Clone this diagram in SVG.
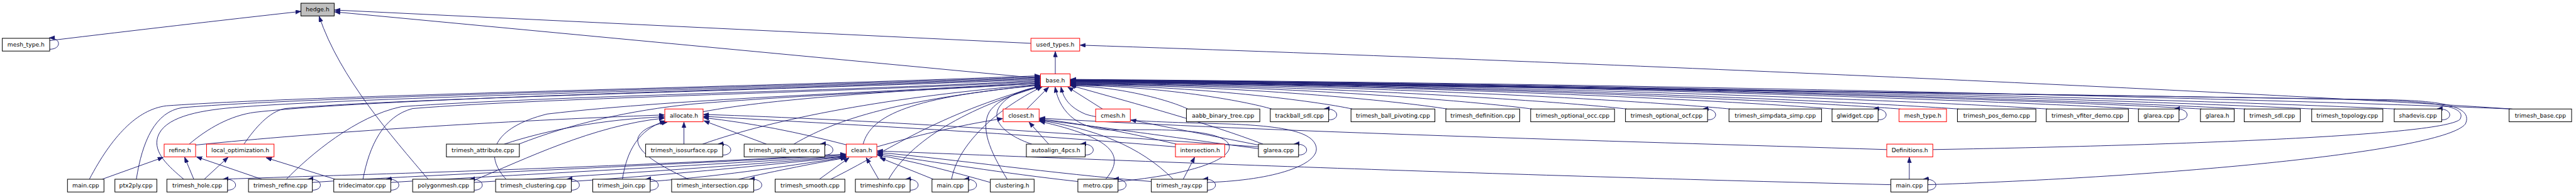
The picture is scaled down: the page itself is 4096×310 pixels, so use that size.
<svg xmlns="http://www.w3.org/2000/svg" width="4096" height="310" viewBox="0 0 4096 310">
<defs>
<style>
.n rect{fill:#fff;stroke:#000;stroke-width:1.4}
.n.r rect{stroke:#ff0000}
.n.g rect{fill:#bfbfbf}
.n text{font-family:"DejaVu Sans","Liberation Sans",sans-serif;font-size:12.7px;text-anchor:middle;fill:#000}
#edges path{fill:none;stroke:#191970;stroke-width:1.3;marker-end:url(#ah)}
</style>
<marker id="ah" markerWidth="13" markerHeight="10" refX="12" refY="4.5" orient="auto" markerUnits="userSpaceOnUse"><path d="M0,0 L12,4.5 L0,9 z" fill="#191970" stroke="#191970" stroke-width="1"/></marker>
</defs>
<rect width="4096" height="310" fill="#fff"/>
<g transform="scale(0.725)">
<g id="edges">
<!-- to hedge.h -->
<path d="M109,89 C300,66 480,45 660,25"/>
<path d="M109,108 C135,108 135,83 108,83"/>
<path d="M2261,95 L734,22"/>
<path d="M2282,172 L734,26"/>
<path d="M939,393 C860,300 745,170 700,36"/>
<!-- to used_types.h -->
<path d="M2314.5,162 L2314.5,113"/>
<path d="M5510,239 C5000,205 3600,140 2369,99"/>
<!-- row3 right nodes to base.h -->
<path d="M2418,239 L2342,191"/>
<path d="M2605,239 C2571,222 2462,190 2348,188"/>
<path d="M2789,239 C2733,222 2545,188 2348,187"/>
<path d="M2966,239 C2889,222 2624,188 2348,186"/>
<path d="M3174,239 C3072,222 2718,187 2348,185"/>
<path d="M3360,239 C3236,222 2802,186 2348,184"/>
<path d="M3568,239 C3419,222 2895,186 2348,183"/>
<path d="M3795,239 C3619,222 2997,185 2348,182"/>
<path d="M4021,239 C3817,222 3099,185 2348,181"/>
<path d="M4168,239 C3947,222 3165,185 2348,180"/>
<path d="M4296,239 C4059,222 3223,185 2348,179"/>
<path d="M4491,239 C4231,222 3310,185 2348,178"/>
<path d="M4693,239 C4409,222 3401,184 2348,177"/>
<path d="M4829,239 C4528,222 3463,184 2348,176"/>
<path d="M4925,239 C4613,222 3506,184 2348,176"/>
<path d="M5073,239 C4743,222 3572,184 2348,175"/>
<path d="M5254,239 C4902,222 3654,184 2348,175"/>
<path d="M5506,239 C5124,222 3767,184 2348,174"/>
<path d="M4239,328 C4700,320 5350,300 5395,262 C5410,236 5360,223 5200,219 C4500,206 3000,186 2348,177"/>
<path d="M4228,405 C4800,386 5360,330 5407,272 C5422,240 5380,222 5250,219 C4500,207 3000,187 2348,178"/>
<!-- left/bottom nodes to base.h -->
<path d="M196,393 C245,300 300,240 365,232 C700,208 1700,190 2281,166"/>
<path d="M299,393 C312,310 340,245 400,236 C700,210 1700,192 2281,168"/>
<path d="M403,393 C370,365 335,335 346,300 C360,258 430,243 510,236 C800,212 1700,194 2281,170"/>
<path d="M415,316 C455,282 505,253 560,246 C850,214 1700,196 2281,172"/>
<path d="M535,316 C560,280 590,245 625,238 C900,214 1700,198 2281,174"/>
<path d="M628,393 C680,340 780,255 880,234 C1200,210 1900,199 2281,176"/>
<path d="M796,393 C810,320 840,255 905,238 C1200,214 1900,201 2281,178"/>
<path d="M1110,393 C1060,340 1080,280 1200,250 C1500,215 1950,203 2281,180"/>
<path d="M1138,316 C1250,272 1380,242 1520,228 C1800,205 2100,196 2281,182"/>
<path d="M1542,245 C1700,215 2000,197 2281,183"/>
<path d="M1541,316 C1700,260 1950,212 2281,185"/>
<path d="M1741,316 C1850,252 2000,216 2281,186"/>
<path d="M1893,316 C1910,252 2000,212 2282,187"/>
<path d="M1822,393 C1950,330 2050,252 2283,188"/>
<path d="M1949,393 C1990,320 2100,242 2284,189"/>
<path d="M2087,393 C2100,320 2180,242 2286,190"/>
<path d="M2209,393 C2170,330 2150,280 2170,245 C2190,215 2240,200 2284,189"/>
<path d="M2263,316 C2200,295 2170,260 2195,230 C2215,205 2250,195 2283,189"/>
<path d="M2252,239 L2300,191"/>
<path d="M2452,398 C2640,380 2720,340 2690,310 C2660,285 2560,283 2450,285 C2370,288 2325,250 2314,191"/>
<path d="M2648,400 C2800,395 2890,360 2887,325 C2883,290 2820,277 2700,272 C2560,268 2420,265 2380,250 C2345,235 2332,215 2327,191"/>
<path d="M2770,316 C2650,270 2500,230 2347,187"/>
<!-- to allocate.h -->
<path d="M429,318 C700,290 1100,265 1457,252"/>
<path d="M1106,316 C1200,285 1320,262 1457,256"/>
<path d="M1040,395 C1150,350 1300,275 1457,259"/>
<path d="M1365,393 C1375,330 1400,285 1459,265"/>
<path d="M1510,393 C1440,360 1390,330 1400,300 C1410,280 1440,272 1463,268"/>
<path d="M1500,316 L1500,268"/>
<path d="M1681,316 L1544,265"/>
<path d="M1858,318 C1750,290 1650,270 1543,258"/>
<path d="M2578,322 C2200,290 1800,270 1543,255"/>
<path d="M2760,322 C2300,290 1900,262 1543,251"/>
<!-- to clean.h -->
<path d="M490,393 C700,385 1300,370 1855,338"/>
<path d="M685,400 C900,385 1400,365 1855,340"/>
<path d="M857,400 C1100,385 1500,365 1855,342"/>
<path d="M1040,400 C1300,385 1600,365 1855,343"/>
<path d="M1253,398 C1450,385 1650,365 1855,344"/>
<path d="M1426,398 C1600,385 1750,360 1856,345"/>
<path d="M1620,393 C1700,375 1800,355 1856,346"/>
<path d="M1797,393 L1862,346"/>
<path d="M1927,393 L1900,346"/>
<path d="M2047,393 L1930,346"/>
<path d="M2172,400 C2100,380 2000,352 1924,340"/>
<path d="M2364,398 C2200,380 2050,355 1924,337"/>
<path d="M2525,398 C2300,380 2100,350 1924,334"/>
<path d="M4147,405 C3300,385 2400,350 1924,331"/>
<!-- to closest.h -->
<path d="M2300,316 L2257,268"/>
<path d="M1923,322 C2000,300 2100,275 2199,260"/>
<path d="M2580,316 C2450,285 2350,268 2280,261"/>
<path d="M2760,326 C2550,298 2400,276 2280,263"/>
<path d="M2573,393 C2500,320 2400,282 2280,264"/>
<path d="M2425,393 C2470,340 2440,302 2280,266"/>
<path d="M4138,328 C3500,308 2800,290 2280,259"/>
<!-- misc -->
<path d="M2760,318 L2480,263"/>
<path d="M2595,393 L2620,345"/>
<path d="M224,393 L358,345"/>
<path d="M425,393 L405,345"/>
<path d="M574,393 L431,344"/>
<path d="M448,393 L500,345"/>
<path d="M735,393 L584,346"/>
<path d="M4187.5,393 L4187.5,345"/>
<!-- self loops -->
<path d="M2914,263 C2940,263 2938,236 2904,239"/>
<path d="M3745,263 C3771,263 3769,236 3735,239"/>
<path d="M4119,263 C4145,263 4143,236 4109,239"/>
<path d="M4779,263 C4805,263 4803,236 4769,239"/>
<path d="M5355,263 C5381,263 5379,236 5345,239"/>
<path d="M1585,340 C1611,340 1609,313 1575,316"/>
<path d="M1809,340 C1835,340 1833,313 1799,316"/>
<path d="M2380,340 C2406,340 2404,313 2370,316"/>
<path d="M2848,340 C2874,340 2872,313 2838,316"/>
<path d="M499,417 C525,417 523,390 489,393"/>
<path d="M685,417 C711,417 709,390 675,393"/>
<path d="M857,417 C883,417 881,390 847,393"/>
<path d="M1040,417 C1066,417 1064,390 1030,393"/>
<path d="M1253,417 C1279,417 1277,390 1243,393"/>
<path d="M1426,417 C1452,417 1450,390 1416,393"/>
<path d="M1653,417 C1679,417 1677,390 1643,393"/>
<path d="M1996,417 C2022,417 2020,390 1986,393"/>
<path d="M2124,417 C2150,417 2148,390 2114,393"/>
<path d="M2452,417 C2478,417 2476,390 2442,393"/>
<path d="M2648,417 C2674,417 2672,390 2638,393"/>
<path d="M4228,417 C4254,417 4252,390 4218,393"/>
</g>
<g id="n_hedge" class="n g"><rect x="660" y="7" width="73" height="28"/><text x="696.5" y="25.5">hedge.h</text></g>
<g id="n_meshtypeL" class="n"><rect x="5" y="84" width="104" height="28"/><text x="57" y="102.5">mesh_type.h</text></g>
<g id="n_used" class="n r"><rect x="2261" y="84" width="107" height="28"/><text x="2314.5" y="102.5">used_types.h</text></g>
<g id="n_base" class="n r"><rect x="2282" y="162" width="65" height="28"/><text x="2314.5" y="180.5">base.h</text></g>
<g id="n_allocate" class="n r"><rect x="1458" y="239" width="84" height="28"/><text x="1500" y="257.5">allocate.h</text></g>
<g id="n_closest" class="n r"><rect x="2200" y="239" width="79" height="28"/><text x="2239.5" y="257.5">closest.h</text></g>
<g id="n_cmesh" class="n r"><rect x="2403" y="239" width="76" height="28"/><text x="2441" y="257.5">cmesh.h</text></g>
<g id="n_aabb" class="n"><rect x="2602" y="239" width="161" height="28"/><text x="2682.5" y="257.5">aabb_binary_tree.cpp</text></g>
<g id="n_trackball" class="n"><rect x="2786" y="239" width="128" height="28"/><text x="2850" y="257.5">trackball_sdl.cpp</text></g>
<g id="n_ballpiv" class="n"><rect x="2963" y="239" width="184" height="28"/><text x="3055" y="257.5">trimesh_ball_pivoting.cpp</text></g>
<g id="n_defn" class="n"><rect x="3171" y="239" width="162" height="28"/><text x="3252" y="257.5">trimesh_definition.cpp</text></g>
<g id="n_occ" class="n"><rect x="3357" y="239" width="184" height="28"/><text x="3449" y="257.5">trimesh_optional_occ.cpp</text></g>
<g id="n_ocf" class="n"><rect x="3565" y="239" width="180" height="28"/><text x="3655" y="257.5">trimesh_optional_ocf.cpp</text></g>
<g id="n_simp" class="n"><rect x="3792" y="239" width="203" height="28"/><text x="3893.5" y="257.5">trimesh_simpdata_simp.cpp</text></g>
<g id="n_glwidget" class="n"><rect x="4018" y="239" width="101" height="28"/><text x="4068.5" y="257.5">glwidget.cpp</text></g>
<g id="n_meshtypeR" class="n r"><rect x="4165" y="239" width="104" height="28"/><text x="4217" y="257.5">mesh_type.h</text></g>
<g id="n_pos" class="n"><rect x="4293" y="239" width="172" height="28"/><text x="4379" y="257.5">trimesh_pos_demo.cpp</text></g>
<g id="n_vfiter" class="n"><rect x="4488" y="239" width="180" height="28"/><text x="4578" y="257.5">trimesh_vfiter_demo.cpp</text></g>
<g id="n_glareaR" class="n"><rect x="4690" y="239" width="89" height="28"/><text x="4734.5" y="257.5">glarea.cpp</text></g>
<g id="n_glareah" class="n"><rect x="4826" y="239" width="74" height="28"/><text x="4863" y="257.5">glarea.h</text></g>
<g id="n_sdl" class="n"><rect x="4922" y="239" width="123" height="28"/><text x="4983.5" y="257.5">trimesh_sdl.cpp</text></g>
<g id="n_topo" class="n"><rect x="5070" y="239" width="156" height="28"/><text x="5148" y="257.5">trimesh_topology.cpp</text></g>
<g id="n_shadevis" class="n"><rect x="5251" y="239" width="104" height="28"/><text x="5303" y="257.5">shadevis.cpp</text></g>
<g id="n_tbase" class="n"><rect x="5503" y="239" width="137" height="28"/><text x="5571.5" y="257.5">trimesh_base.cpp</text></g>
<g id="n_refine" class="n r"><rect x="360" y="316" width="69" height="28"/><text x="394.5" y="334.5">refine.h</text></g>
<g id="n_localopt" class="n r"><rect x="453" y="316" width="148" height="28"/><text x="527" y="334.5">local_optimization.h</text></g>
<g id="n_attr" class="n"><rect x="979" y="316" width="160" height="28"/><text x="1059" y="334.5">trimesh_attribute.cpp</text></g>
<g id="n_iso" class="n"><rect x="1416" y="316" width="169" height="28"/><text x="1500.5" y="334.5">trimesh_isosurface.cpp</text></g>
<g id="n_split" class="n"><rect x="1632" y="316" width="177" height="28"/><text x="1720.5" y="334.5">trimesh_split_vertex.cpp</text></g>
<g id="n_clean" class="n r"><rect x="1856" y="316" width="67" height="28"/><text x="1889.5" y="334.5">clean.h</text></g>
<g id="n_autoalign" class="n"><rect x="2251" y="316" width="129" height="28"/><text x="2315.5" y="334.5">autoalign_4pcs.h</text></g>
<g id="n_intersecth" class="n r"><rect x="2578" y="316" width="108" height="28"/><text x="2632" y="334.5">intersection.h</text></g>
<g id="n_glareaM" class="n"><rect x="2760" y="316" width="88" height="28"/><text x="2804" y="334.5">glarea.cpp</text></g>
<g id="n_defs" class="n r"><rect x="4138" y="316" width="101" height="28"/><text x="4188.5" y="334.5">Definitions.h</text></g>
<g id="n_main1" class="n"><rect x="148" y="393" width="80" height="28"/><text x="188" y="411.5">main.cpp</text></g>
<g id="n_ptx" class="n"><rect x="252" y="393" width="92" height="28"/><text x="298" y="411.5">ptx2ply.cpp</text></g>
<g id="n_hole" class="n"><rect x="366" y="393" width="133" height="28"/><text x="432.5" y="411.5">trimesh_hole.cpp</text></g>
<g id="n_trefine" class="n"><rect x="545" y="393" width="140" height="28"/><text x="615" y="411.5">trimesh_refine.cpp</text></g>
<g id="n_tridec" class="n"><rect x="732" y="393" width="125" height="28"/><text x="794.5" y="411.5">tridecimator.cpp</text></g>
<g id="n_poly" class="n"><rect x="905" y="393" width="135" height="28"/><text x="972.5" y="411.5">polygonmesh.cpp</text></g>
<g id="n_tclust" class="n"><rect x="1087" y="393" width="166" height="28"/><text x="1170" y="411.5">trimesh_clustering.cpp</text></g>
<g id="n_join" class="n"><rect x="1300" y="393" width="126" height="28"/><text x="1363" y="411.5">trimesh_join.cpp</text></g>
<g id="n_tinter" class="n"><rect x="1473" y="393" width="180" height="28"/><text x="1563" y="411.5">trimesh_intersection.cpp</text></g>
<g id="n_smooth" class="n"><rect x="1700" y="393" width="153" height="28"/><text x="1776.5" y="411.5">trimesh_smooth.cpp</text></g>
<g id="n_info" class="n"><rect x="1876" y="393" width="120" height="28"/><text x="1936" y="411.5">trimeshinfo.cpp</text></g>
<g id="n_main2" class="n"><rect x="2044" y="393" width="80" height="28"/><text x="2084" y="411.5">main.cpp</text></g>
<g id="n_clusth" class="n"><rect x="2172" y="393" width="96" height="28"/><text x="2220" y="411.5">clustering.h</text></g>
<g id="n_metro" class="n"><rect x="2364" y="393" width="88" height="28"/><text x="2408" y="411.5">metro.cpp</text></g>
<g id="n_ray" class="n"><rect x="2525" y="393" width="123" height="28"/><text x="2586.5" y="411.5">trimesh_ray.cpp</text></g>
<g id="n_main3" class="n"><rect x="4147" y="393" width="81" height="28"/><text x="4187.5" y="411.5">main.cpp</text></g>
</g>
</svg>
